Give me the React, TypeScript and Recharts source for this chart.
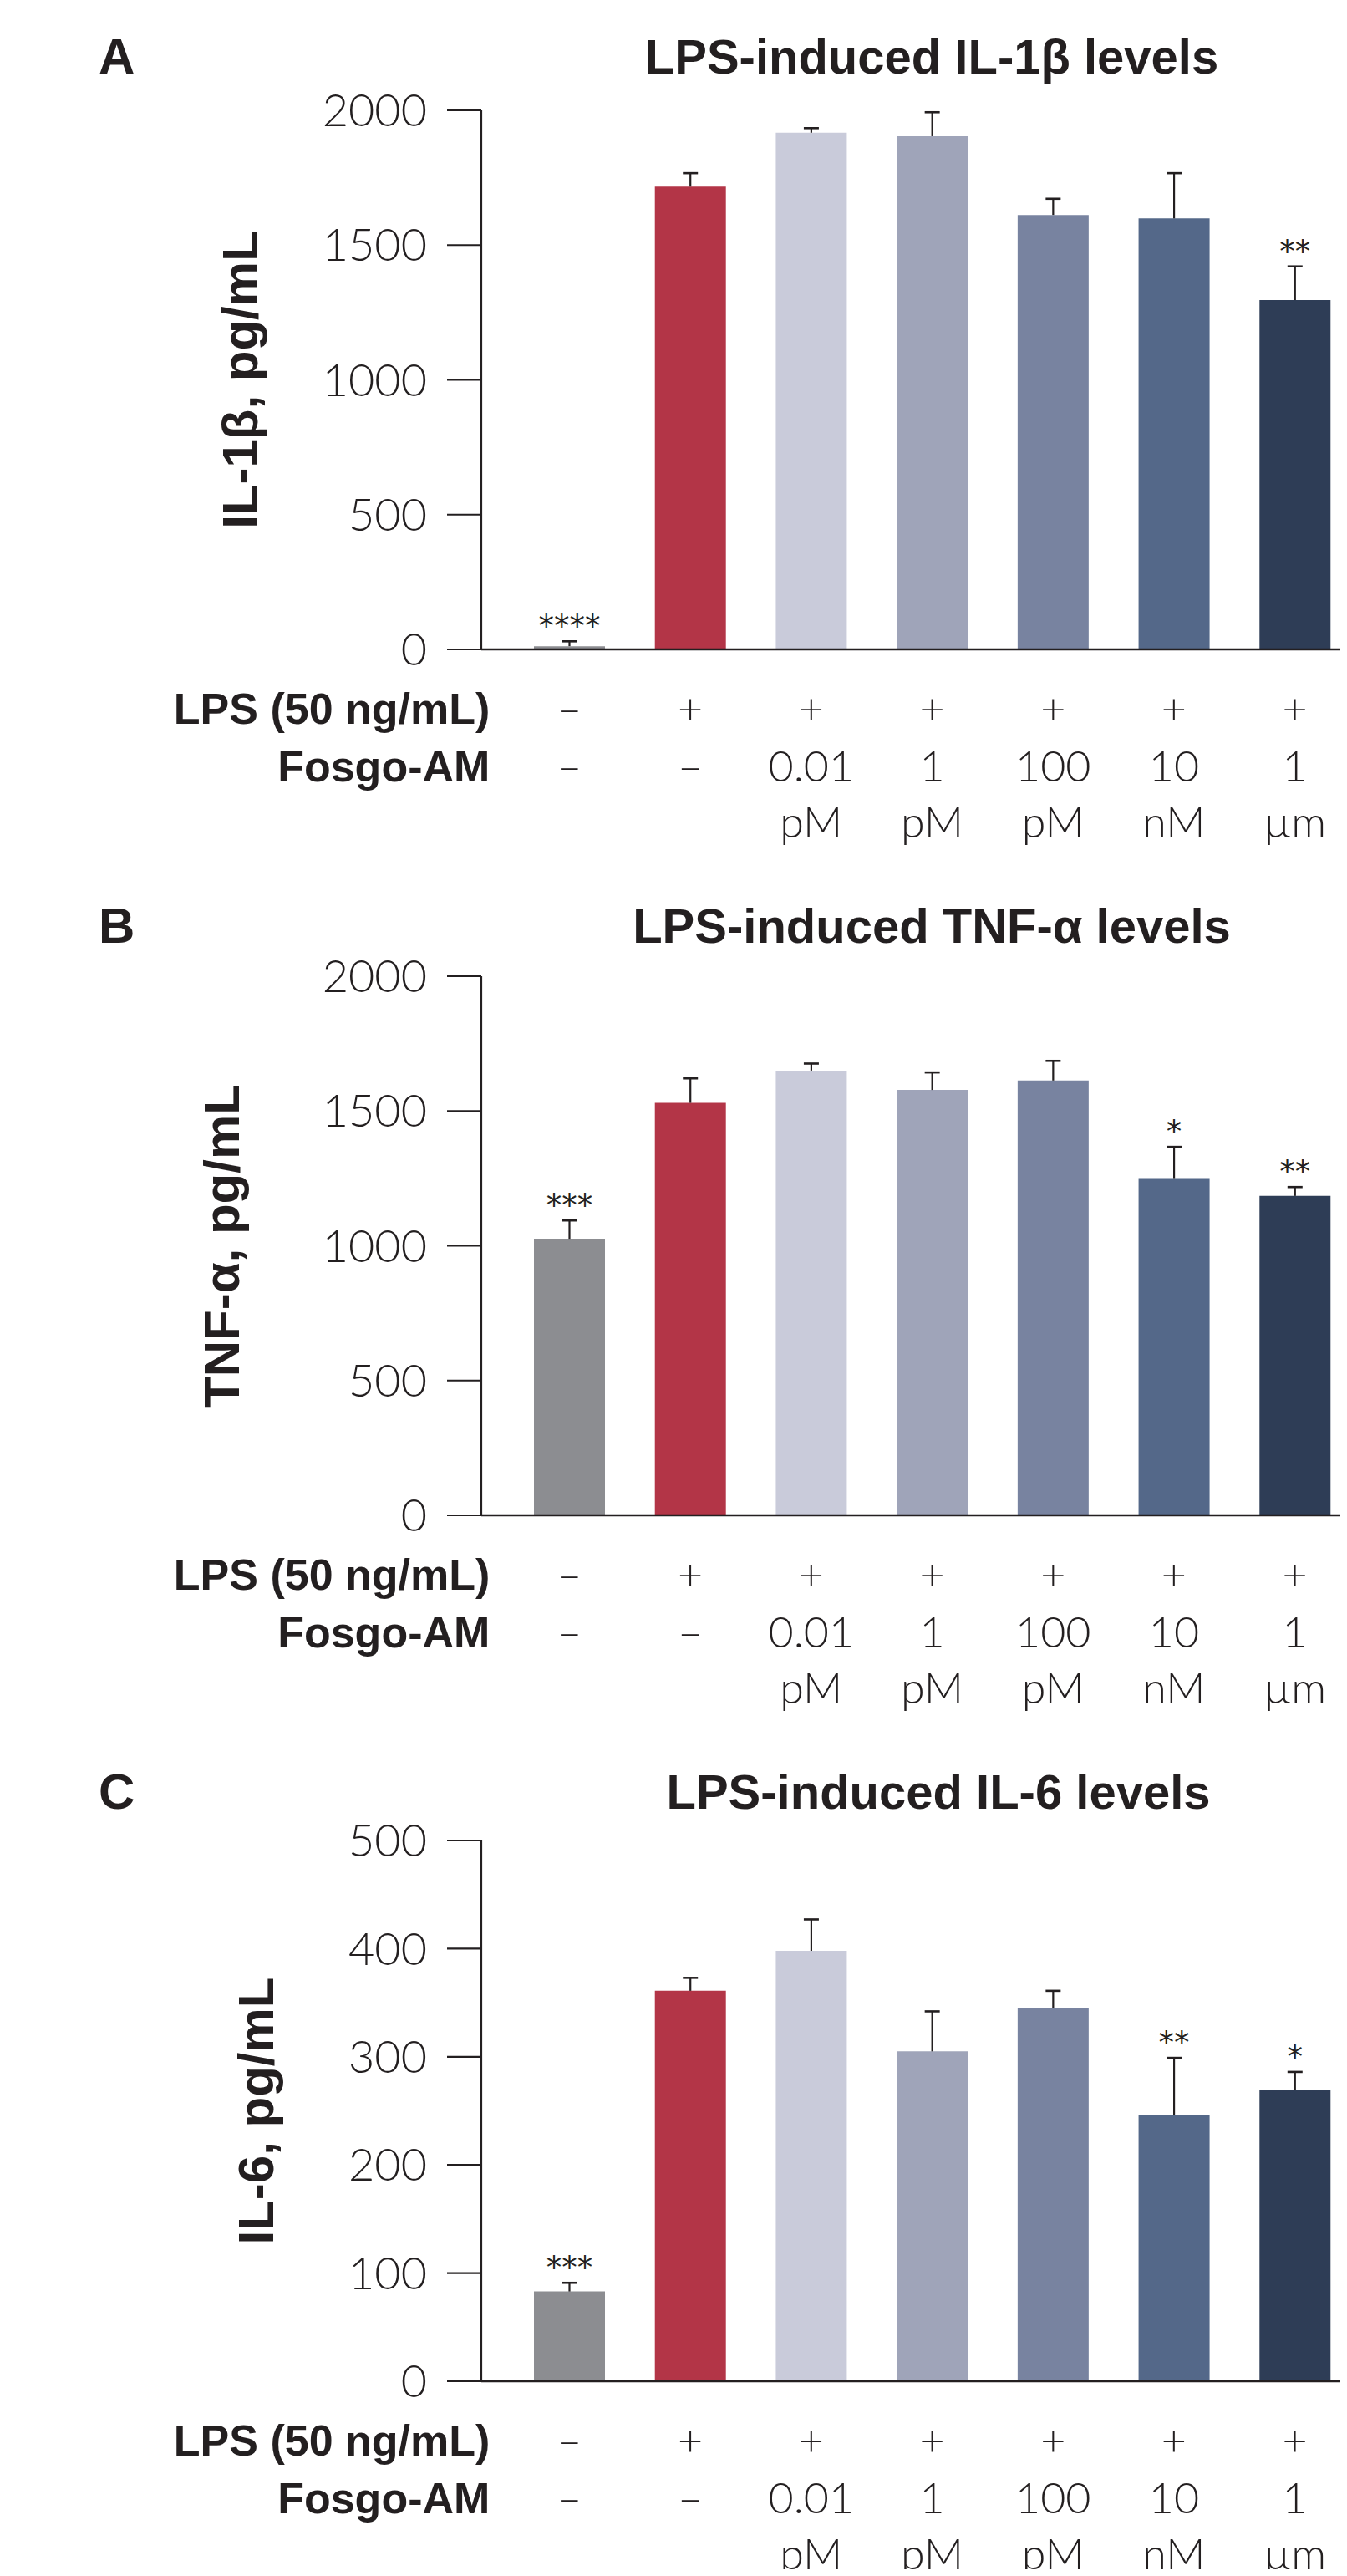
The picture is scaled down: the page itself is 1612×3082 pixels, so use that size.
import { BarChart, Bar, XAxis, YAxis, Cell, LabelList, Label } from 'recharts';

const categories = ['ctrl', 'lps', 'f001pM', 'f1pM', 'f100pM', 'f10nM', 'f1um'];
const lpsRow = ['–', '+', '+', '+', '+', '+', '+'];
const fosgoRow = ['–', '–', '0.01', '1', '100', '10', '1'];
const unitRow = ['', '', 'pM', 'pM', 'pM', 'nM', 'µm'];
const barColors = ['#8c8d91', '#b33547', '#c9cbda', '#9fa4b9', '#7883a0', '#546889', '#2e3d56'];

const il1bValues = [12, 1717, 1917, 1904, 1612, 1599, 1296];
const il1bErrors = [18, 50, 17, 89, 60, 168, 125];
const il1bSig = ['****', '', '', '', '', '', '**'];

const tnfValues = [1026, 1530, 1650, 1578, 1613, 1251, 1185];
const tnfErrors = [68, 91, 26, 65, 73, 116, 33];
const tnfSig = ['***', '', '', '', '', '*', '**'];

const il6Values = [83, 361, 398, 305, 345, 246, 269];
const il6Errors = [8, 12, 29, 37, 16, 53, 17];
const il6Sig = ['***', '', '', '', '', '**', '*'];

const ticks2000 = [0, 500, 1000, 1500, 2000];
const ticks500 = [0, 100, 200, 300, 400, 500];

const INK = '#231f20';
const LIGHT = 'Lato, "Open Sans", sans-serif';
const BOLD = '"Liberation Sans", Arial, sans-serif';

const ErrorWhisker = (props: any) => {
  const { x, y, width, height } = props;
  if (height == null || isNaN(height)) return null;
  const cx = x + width / 2;
  return (
    <g>
      <line x1={cx} x2={cx} y1={y + height} y2={y} stroke={INK} strokeWidth={2.2} />
      <line x1={cx - 9} x2={cx + 9} y1={y} y2={y} stroke={INK} strokeWidth={2.6} />
    </g>
  );
};

const SigLabel = (props: any) => {
  const { x, y, width, value } = props;
  if (!value) return null;
  return (
    <text x={x + width / 2} y={y - 5} textAnchor="middle" fill={INK}
      fontFamily='"DejaVu Sans", sans-serif' fontSize={37}>
      {value}
    </text>
  );
};

const RowTick = (props: any) => {
  const { x, y, index } = props;
  const rowStyle = { fill: INK, fontFamily: LIGHT, fontWeight: 300, fontSize: 52 };
  const headStyle = { fill: INK, fontFamily: BOLD, fontWeight: 700, fontSize: 52 };
  return (
    <g>
      {index === 0 && (
        <>
          <text x={x - 95} y={y + 89} textAnchor="end" style={headStyle}>LPS (50 ng/mL)</text>
          <text x={x - 95} y={y + 158} textAnchor="end" style={headStyle}>Fosgo-AM</text>
        </>
      )}
      <text x={x} y={y + 89} textAnchor="middle" style={rowStyle}>{lpsRow[index]}</text>
      <text x={x} y={y + 158} textAnchor="middle" style={rowStyle}>{fosgoRow[index]}</text>
      <text x={x} y={y + 225} textAnchor="middle" style={rowStyle}>{unitRow[index]}</text>
    </g>
  );
};

type PanelProps = {
  top: number;
  letter: string;
  title: string;
  titleX: number;
  titleGap: number;
  yLabel: string;
  yLabelX: number;
  values: number[];
  errors: number[];
  sig: string[];
  yMax: number;
  yTicks: number[];
  plotHeight: number;
};

const Panel = (p: PanelProps) => {
  const data = categories.map((c, i) => ({ cat: c, value: p.values[i], err: p.errors[i], sig: p.sig[i] }));
  const marginTop = 132;
  const height = marginTop + p.plotHeight + 260;
  const baseline = marginTop - p.titleGap;
  return (
    <div style={{ position: 'absolute', left: 0, top: p.top, width: 1622, height }}>
      <svg width={1612} height={140} style={{ position: 'absolute', left: 0, top: 0 }}>
        <text x={118} y={baseline} fill={INK} fontFamily={BOLD} fontWeight={700} fontSize={60}>{p.letter}</text>
        <text x={p.titleX} y={baseline} textAnchor="middle" fill={INK} fontFamily={BOLD} fontWeight={700} fontSize={58}>
          {p.title}
        </text>
      </svg>
      <div style={{ position: 'absolute', left: 0, top: 0 }}>
        <BarChart width={1622} height={height} data={data} margin={{ top: marginTop, right: 0, bottom: 0, left: 0 }}>
          <XAxis
            dataKey="cat"
            interval={0}
            height={260}
            padding={{ left: 33, right: 0 }}
            axisLine={{ stroke: INK, strokeWidth: 2.5 }}
            tickLine={false}
            tickSize={0}
            tickMargin={0}
            tick={<RowTick />}
          />
          <YAxis
            width={576}
            domain={[0, p.yMax]}
            ticks={p.yTicks}
            allowDataOverflow
            axisLine={{ stroke: INK, strokeWidth: 2.2 }}
            tickLine={{ stroke: INK, strokeWidth: 2.2 }}
            tickSize={41}
            tickMargin={24}
            tick={{ fill: INK, fontFamily: LIGHT, fontWeight: 300, fontSize: 54 }}
          >
            <Label
              content={(lp: any) => {
                const vb = lp.viewBox;
                const cy = vb.y + vb.height / 2;
                return (
                  <text x={p.yLabelX} y={cy} transform={`rotate(-90 ${p.yLabelX} ${cy})`} textAnchor="middle"
                    fill={INK} fontFamily={BOLD} fontWeight={700} fontSize={60}>
                    {p.yLabel}
                  </text>
                );
              }}
            />
          </YAxis>
          <Bar dataKey="value" stackId="s" barSize={85} isAnimationActive={false}>
            {data.map((d, i) => (
              <Cell key={d.cat} fill={barColors[i]} />
            ))}
          </Bar>
          <Bar dataKey="err" stackId="s" barSize={85} isAnimationActive={false} shape={<ErrorWhisker />}>
            <LabelList dataKey="sig" content={<SigLabel />} />
          </Bar>
        </BarChart>
      </div>
    </div>
  );
};

export default function App() {
  return (
    <div style={{ position: 'relative', width: 1612, height: 3082, overflow: 'hidden', margin: -8, background: '#fff' }}>
      <Panel top={0} letter="A" title="LPS-induced IL-1β levels" titleX={1115} titleGap={44}
        yLabel="IL-1β, pg/mL" yLabelX={308} values={il1bValues} errors={il1bErrors} sig={il1bSig}
        yMax={2000} yTicks={ticks2000} plotHeight={645} />
      <Panel top={1036} letter="B" title="LPS-induced TNF-α levels" titleX={1115} titleGap={40}
        yLabel="TNF-α, pg/mL" yLabelX={286} values={tnfValues} errors={tnfErrors} sig={tnfSig}
        yMax={2000} yTicks={ticks2000} plotHeight={645} />
      <Panel top={2070} letter="C" title="LPS-induced IL-6 levels" titleX={1123} titleGap={38}
        yLabel="IL-6, pg/mL" yLabelX={327} values={il6Values} errors={il6Errors} sig={il6Sig}
        yMax={500} yTicks={ticks500} plotHeight={647} />
    </div>
  );
}
